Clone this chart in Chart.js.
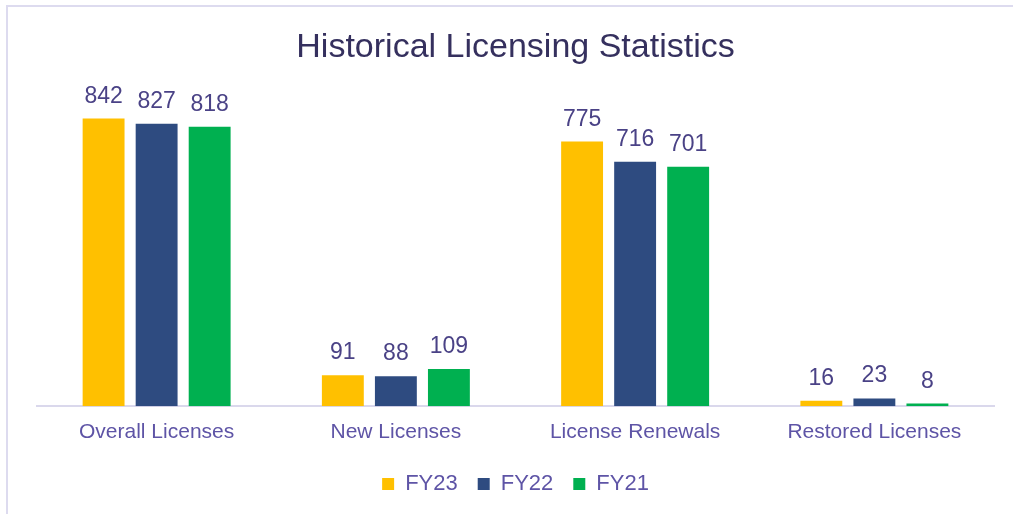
<!DOCTYPE html>
<html>
<head>
<meta charset="utf-8">
<script src="https://cdn.jsdelivr.net/npm/chart.js@4/dist/chart.umd.min.js"></script>
<style>
  html, body { margin: 0; padding: 0; background: #fff; overflow: hidden; }
  #frame {
    position: absolute; left: 6px; top: 5px; width: 1100px; height: 600px;
    border-left: 2px solid #dddbef; border-top: 2px solid #dddbef;
  }
  #wrap { position: absolute; left: 0; top: 0; width: 1031px; height: 514px; }
</style>
</head>
<body>
<div id="frame"></div>
<div id="wrap"><canvas id="chart"></canvas></div>
<script>
// ── Data ─────────────────────────────────────────────────────────────────────

const categories = ['Overall Licenses', 'New Licenses', 'License Renewals', 'Restored Licenses'];
const series_names = ['FY23', 'FY22', 'FY21'];
const fy23 = [842, 91, 775, 16];
const fy22 = [827, 88, 716, 23];
const fy21 = [818, 109, 701, 8];

const COLORS = ['#ffc000', '#2e4b80', '#00b050'];
const FONT = "'Liberation Sans', Arial, sans-serif";

// value labels above each bar
const value_labels = {
  id: 'value_labels',
  afterDatasetsDraw(chart) {
    const ctx = chart.ctx;
    ctx.save();
    ctx.font = '23px ' + FONT;
    ctx.fillStyle = '#4a4286';
    ctx.textAlign = 'center';
    ctx.textBaseline = 'alphabetic';
    chart.data.datasets.forEach((ds, i) => {
      chart.getDatasetMeta(i).data.forEach((bar, j) => {
        ctx.fillText(String(ds.data[j]), bar.x, bar.y - 16);
      });
    });
    ctx.restore();
  }
};

new Chart(document.getElementById('chart'), {
  type: 'bar',
  data: {
    labels: categories,
    datasets: [fy23, fy22, fy21].map((vals, i) => ({
      label: series_names[i],
      data: vals,
      backgroundColor: COLORS[i],
      borderWidth: 0,
      categoryPercentage: 0.665,
      barPercentage: 0.79,
    })),
  },
  options: {
    responsive: true,
    maintainAspectRatio: false,
    animation: false,
    layout: { padding: { top: 6, left: 37, right: 37, bottom: 9 } },
    plugins: {
      title: {
        display: true,
        text: 'Historical Licensing Statistics',
        color: '#35305e',
        font: { family: FONT, size: 34, weight: 'normal' },
        padding: { top: 21, bottom: 31 },
      },
      legend: {
        position: 'bottom',
        labels: {
          color: '#5e54a6',
          font: { family: FONT, size: 22 },
          boxWidth: 12,
          boxHeight: 12,
          padding: 20,
        },
      },
      tooltip: { enabled: false },
    },
    scales: {
      x: {
        grid: { display: false, drawTicks: false },
        border: { display: true, color: '#dad8ec', width: 2 },
        ticks: { color: '#5e54a6', font: { family: FONT, size: 21, lineHeight: 0.77 }, padding: 18 },
        afterFit: scale => { scale.height -= 5.5; },
      },
      y: {
        display: false,
        min: 0,
        max: 900,
      },
    },
  },
  plugins: [value_labels],
});
</script>
</body>
</html>
